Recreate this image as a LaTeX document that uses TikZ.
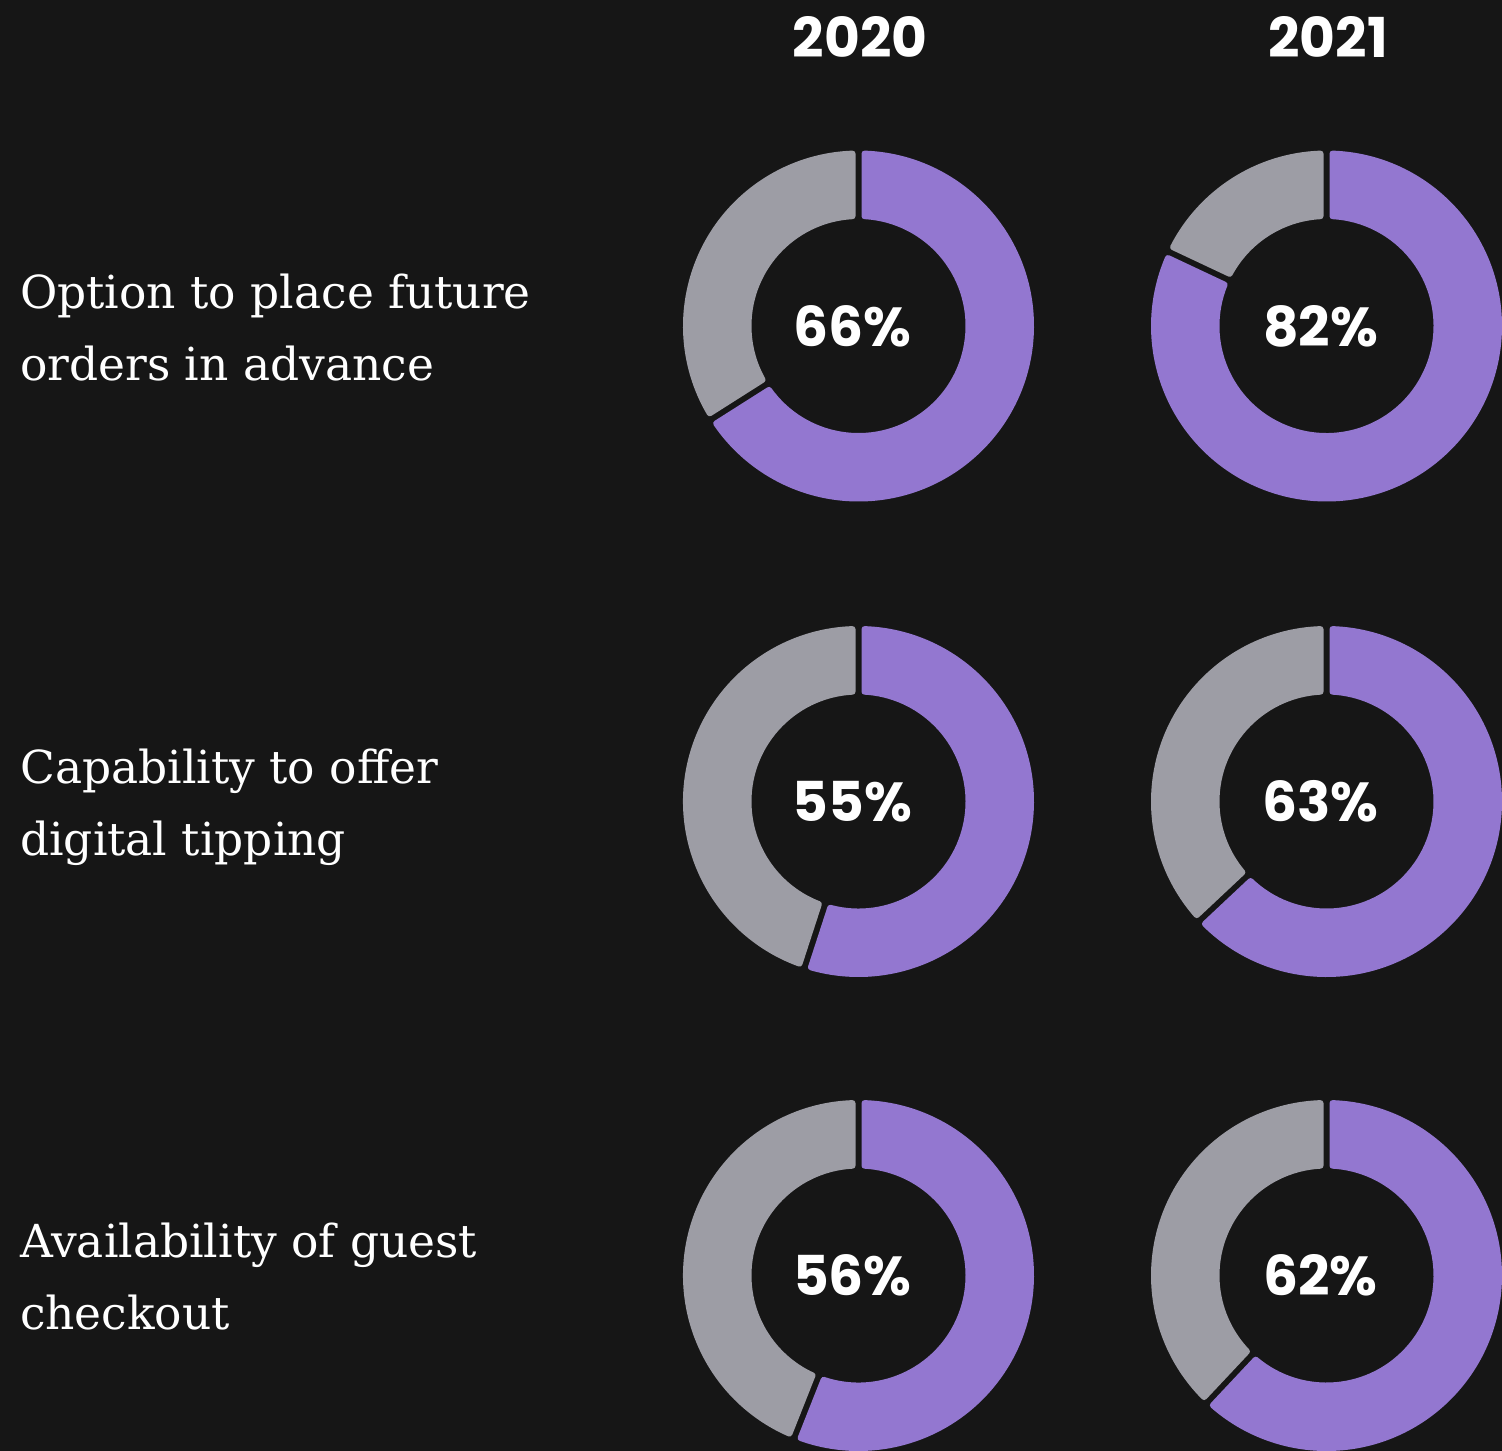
\documentclass[tikz,border=0pt]{standalone}
\usepackage{fontspec}
\usetikzlibrary{calc}
\newfontfamily\popfont{Poppins}
\newfontfamily\serfont{DejaVu Serif}
\definecolor{bgc}{RGB}{22,22,22}
\definecolor{purp}{RGB}{147,119,208}
\definecolor{greyseg}{RGB}{157,157,165}
\newcommand\ringseg[4]{%
  \pgfmathsetmacro\ao{asin(6/172.5)}%
  \pgfmathsetmacro\ai{asin(6/110)}%
  \pgfmathsetmacro\sa{#2-\ao}\pgfmathsetmacro\ea{#3+\ao}%
  \pgfmathsetmacro\sb{#3+\ai}\pgfmathsetmacro\eb{#2-\ai}%
  \filldraw[segstyle,#4] ($(#1)+(\sa:172.5pt)$) arc[start angle=\sa, end angle=\ea, radius=172.5pt]
    -- ($(#1)+(\sb:110pt)$) arc[start angle=\sb, end angle=\eb, radius=110pt] -- cycle;}
\newcommand\donutchart[3]{% center name, percent, label name
  \pgfmathsetmacro\cut{90-3.6*#2}%
  \ringseg{#1}{90}{\cut}{purp}%
  \ringseg{#1}{\cut}{-270}{greyseg}%
  \node[pct] (#3) at ($(#1)+(-6,0)$) {#2\%};}
\tikzset{
  segstyle/.style={line width=6pt, line join=round},
  pct/.style={text=white, font=\popfont\bfseries\fontsize{55}{60}\selectfont, anchor=center, inner sep=0pt},
  yearlbl/.style={text=white, font=\popfont\bfseries\fontsize{55}{60}\selectfont, anchor=base, inner sep=0pt},
  rowlbl/.style={text=white, font=\serfont\fontsize{45.5}{72}\selectfont, anchor=base west, align=left, inner sep=0pt},
}
\begin{document}
\begin{tikzpicture}[x=1pt,y=1pt]
\fill[bgc] (0,0) rectangle (1502,-1451);
\useasboundingbox (0,0) rectangle (1502,-1451);
\coordinate (a1) at (858.5,-326);
\coordinate (b1) at (1326.5,-326);
\coordinate (a2) at (858.5,-801.5);
\coordinate (b2) at (1326.5,-801.5);
\coordinate (a3) at (858.5,-1275.5);
\coordinate (b3) at (1326.5,-1275.5);
\node[yearlbl] (y2020) at (860,-57) {2020};
\node[yearlbl] (y2021) at (1328,-57) {2021};
\donutchart{a1}{66}{pa1}
\donutchart{b1}{82}{pb1}
\donutchart{a2}{55}{pa2}
\donutchart{b2}{63}{pb2}
\donutchart{a3}{56}{pa3}
\donutchart{b3}{62}{pb3}
\node[rowlbl] (r1) at (20,-380) {Option to place future\\orders in advance};
\node[rowlbl] (r2) at (20,-855) {Capability to offer\\digital tipping};
\node[rowlbl] (r3) at (20,-1329) {Availability of guest\\checkout};
\end{tikzpicture}
\end{document}
